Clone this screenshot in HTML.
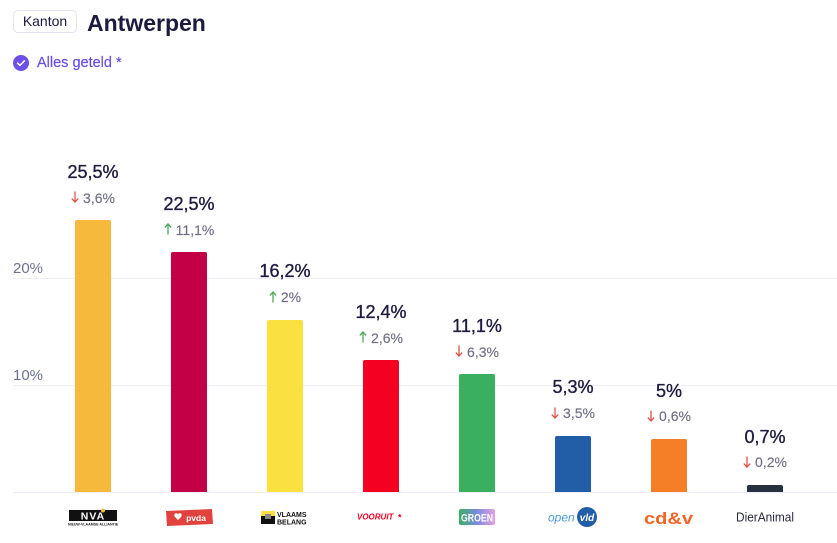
<!DOCTYPE html>
<html><head><meta charset="utf-8">
<style>
*{margin:0;padding:0;box-sizing:border-box}
html,body{width:837px;height:543px;background:#fff;overflow:hidden;font-family:"Liberation Sans",sans-serif}
.abs{position:absolute}
.badge{left:13px;top:10px;width:64px;height:23px;border:1px solid #e4e2f3;border-radius:5px;font-size:14px;line-height:21px;text-align:center;color:#1c1a3f}
.title{left:87px;top:8px;font-size:23px;font-weight:bold;color:#1c1a3f;line-height:30px}
.geteld{left:37px;top:55px;font-size:14.5px;color:#6b4ee6;line-height:16px;-webkit-text-stroke:0.2px #6b4ee6}
.grid{left:13px;width:824px;height:1px;background:#efeef6}
.ylab{left:13px;font-size:15px;color:#6c7191;line-height:15px}
.bar{width:36px;border-radius:2px 2px 0 0}
.val{width:96px;text-align:center;font-size:18px;line-height:18px;color:#1e1b41;-webkit-text-stroke:0.35px #1e1b41}
.chg{width:96px;display:flex;justify-content:center;align-items:center;font-size:14px;line-height:14px;color:#6f6e85;height:14px;-webkit-text-stroke:0.15px #6f6e85}
.chg svg{margin-right:4px;margin-top:-1px}
</style></head><body>

<div class="abs badge">Kanton</div>
<div class="abs title">Antwerpen</div>
<svg class="abs" style="left:13px;top:55px" width="16" height="16" viewBox="0 0 16 16"><circle cx="8" cy="8" r="8" fill="#6c50e8"/><polyline points="4.6,8.2 7,10.4 11.4,5.8" fill="none" stroke="#fff" stroke-width="1.5" stroke-linecap="round" stroke-linejoin="round"/></svg>
<div class="abs geteld">Alles geteld *</div>

<div class="abs grid" style="top:278px"></div>
<div class="abs grid" style="top:385px"></div>
<div class="abs grid" style="top:492px"></div>
<div class="abs ylab" style="top:261px">20%</div>
<div class="abs ylab" style="top:368px">10%</div>

<!-- bars -->
<div class="abs bar" style="left:75px;top:220px;height:272px;background:#f5ba3c"></div>
<div class="abs bar" style="left:171px;top:252px;height:240px;background:#c30045"></div>
<div class="abs bar" style="left:267px;top:320px;height:172px;background:#fae13f"></div>
<div class="abs bar" style="left:363px;top:360px;height:132px;background:#f40022"></div>
<div class="abs bar" style="left:459px;top:374px;height:118px;background:#3aaf5f"></div>
<div class="abs bar" style="left:555px;top:436px;height:56px;background:#225ea8"></div>
<div class="abs bar" style="left:651px;top:439px;height:53px;background:#f47f27"></div>
<div class="abs bar" style="left:747px;top:485px;height:7px;background:#283142"></div>

<!-- value labels -->
<div class="abs val" style="left:45px;top:162.5px">25,5%</div>
<div class="abs val" style="left:141px;top:194.5px">22,5%</div>
<div class="abs val" style="left:237px;top:262px">16,2%</div>
<div class="abs val" style="left:333px;top:302.5px">12,4%</div>
<div class="abs val" style="left:429px;top:316.5px">11,1%</div>
<div class="abs val" style="left:525px;top:378px">5,3%</div>
<div class="abs val" style="left:621px;top:381.5px">5%</div>
<div class="abs val" style="left:717px;top:427.5px">0,7%</div>

<!-- change labels -->
<div class="abs chg" style="left:45px;top:190.5px"><svg width="8" height="12" viewBox="0 0 8 12"><path d="M4 0.5V11M0.8 7.6L4 11L7.2 7.6" fill="none" stroke="#d9534f" stroke-width="1.3"/></svg>3,6%</div>
<div class="abs chg" style="left:141px;top:222.5px"><svg width="8" height="12" viewBox="0 0 8 12"><path d="M4 11.5V1M0.8 4.4L4 1L7.2 4.4" fill="none" stroke="#4caa5a" stroke-width="1.3"/></svg>11,1%</div>
<div class="abs chg" style="left:237px;top:290px"><svg width="8" height="12" viewBox="0 0 8 12"><path d="M4 11.5V1M0.8 4.4L4 1L7.2 4.4" fill="none" stroke="#4caa5a" stroke-width="1.3"/></svg>2%</div>
<div class="abs chg" style="left:333px;top:330.5px"><svg width="8" height="12" viewBox="0 0 8 12"><path d="M4 11.5V1M0.8 4.4L4 1L7.2 4.4" fill="none" stroke="#4caa5a" stroke-width="1.3"/></svg>2,6%</div>
<div class="abs chg" style="left:429px;top:344.5px"><svg width="8" height="12" viewBox="0 0 8 12"><path d="M4 0.5V11M0.8 7.6L4 11L7.2 7.6" fill="none" stroke="#d9534f" stroke-width="1.3"/></svg>6,3%</div>
<div class="abs chg" style="left:525px;top:406px"><svg width="8" height="12" viewBox="0 0 8 12"><path d="M4 0.5V11M0.8 7.6L4 11L7.2 7.6" fill="none" stroke="#d9534f" stroke-width="1.3"/></svg>3,5%</div>
<div class="abs chg" style="left:621px;top:409px"><svg width="8" height="12" viewBox="0 0 8 12"><path d="M4 0.5V11M0.8 7.6L4 11L7.2 7.6" fill="none" stroke="#d9534f" stroke-width="1.3"/></svg>0,6%</div>
<div class="abs chg" style="left:717px;top:455px"><svg width="8" height="12" viewBox="0 0 8 12"><path d="M4 0.5V11M0.8 7.6L4 11L7.2 7.6" fill="none" stroke="#d9534f" stroke-width="1.3"/></svg>0,2%</div>

<!-- logos -->
<svg class="abs" style="left:0;top:500px" width="837" height="40" viewBox="0 500 837 40">
  <!-- N-VA -->
  <rect x="69" y="510" width="48" height="11" fill="#111"/>
  <text x="93" y="519.5" text-anchor="middle" font-family="Liberation Sans" font-weight="bold" font-size="10.5" fill="#fff" letter-spacing="1">NVA</text>
  <circle cx="103" cy="510.5" r="2" fill="#f5ba3c"/>
  <text x="93" y="525.5" text-anchor="middle" font-family="Liberation Sans" font-weight="bold" font-size="3.6" fill="#222">NIEUW-VLAAMSE ALLIANTIE</text>
  <!-- pvda -->
  <path d="M166 511 L212 509 L213 524 L167 526 Z" fill="#e2423e"/>
  <path d="M178 514 c-2-2-5 0-3 3 l3 3 l3-3 c2-3-1-5-3-3z" fill="#fff"/>
  <text x="196" y="521" text-anchor="middle" font-family="Liberation Sans" font-weight="bold" font-size="8.5" fill="#fff">pvda</text>
  <!-- Vlaams Belang -->
  <rect x="261" y="511" width="14" height="13" fill="#111"/>
  <rect x="261" y="511" width="14" height="5" fill="#fae13f"/>
  <rect x="265" y="514" width="6" height="5" fill="#888"/>
  <text x="277" y="517" font-family="Liberation Sans" font-weight="bold" font-size="7" fill="#111">VLAAMS</text>
  <text x="277" y="524.5" font-family="Liberation Sans" font-weight="bold" font-size="7" fill="#111">BELANG</text>
  <!-- Vooruit -->
  <text x="357" y="519.5" font-family="Liberation Sans" font-weight="bold" font-style="italic" font-size="8" fill="#f40022">VOORUIT</text>
  <text x="398" y="520.5" font-family="Liberation Sans" font-weight="bold" font-size="9" fill="#f40022">*</text>
  <!-- Groen -->
  <defs><linearGradient id="gr" x1="0" x2="1"><stop offset="0" stop-color="#3aaf5f"/><stop offset="0.5" stop-color="#7a8be0"/><stop offset="1" stop-color="#e9a0e0"/></linearGradient></defs>
  <rect x="459" y="509" width="36" height="16" rx="2" fill="url(#gr)"/>
  <text x="477" y="521.5" text-anchor="middle" font-family="Liberation Sans" font-weight="bold" font-size="11" fill="#fff" textLength="32" lengthAdjust="spacingAndGlyphs">GROEN</text>
  <!-- open vld -->
  <text x="548" y="521.5" font-family="Liberation Sans" font-style="italic" font-size="12" fill="#4a9ad8">open</text>
  <circle cx="587" cy="517" r="10" fill="#225ea8"/>
  <text x="587" y="521" text-anchor="middle" font-family="Liberation Sans" font-weight="bold" font-style="italic" font-size="10" fill="#fff">vld</text>
  <!-- cd&v -->
  <text x="668.5" y="524" text-anchor="middle" font-family="Liberation Sans" font-weight="bold" font-size="17" fill="#f26524" textLength="49" lengthAdjust="spacingAndGlyphs">cd&amp;v</text>
  <!-- DierAnimal -->
  <text x="765" y="521.5" text-anchor="middle" font-family="Liberation Sans" font-size="12.5" fill="#2a2a3e" textLength="58" lengthAdjust="spacingAndGlyphs">DierAnimal</text>
</svg>

</body></html>
